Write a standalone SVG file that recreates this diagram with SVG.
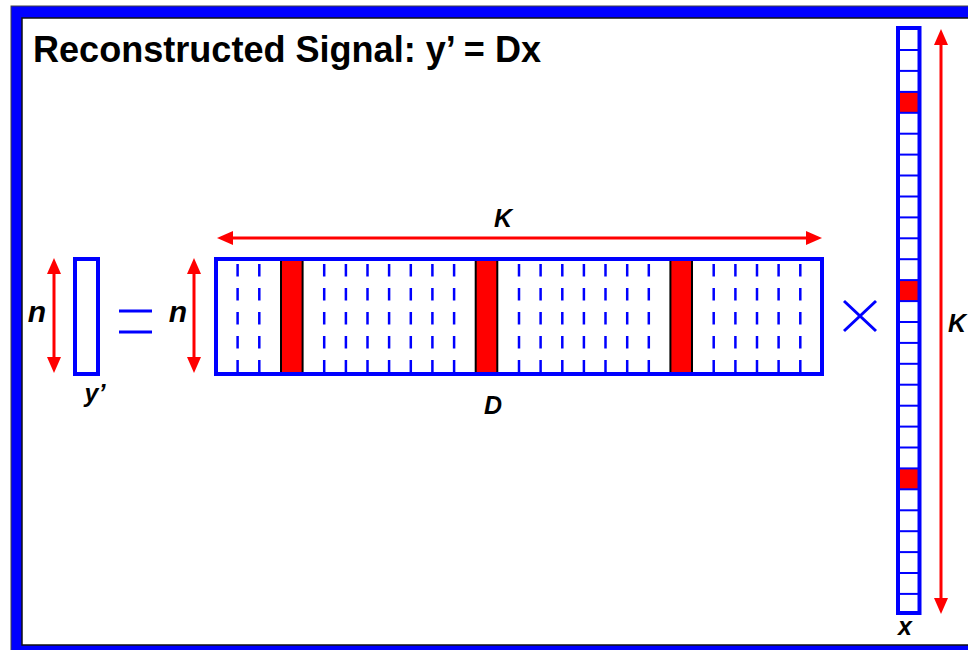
<svg xmlns="http://www.w3.org/2000/svg" width="968" height="650" viewBox="0 0 968 650">
<style>
.lbl{font-family:"Liberation Sans",Arial,sans-serif;font-weight:bold;font-style:italic;fill:#000}
.title{font-family:"Liberation Sans",Arial,sans-serif;font-weight:bold;fill:#000;font-size:36px}
.box{fill:none;stroke:#0000ff;stroke-width:4}
.dash{stroke:#0000ff;stroke-width:2.5;stroke-dasharray:12.5 11.5;stroke-dashoffset:21}
.redcol{fill:#ff0000;stroke:#000;stroke-width:2}
.cell{stroke:#0000ff;stroke-width:2}
.redcell{fill:#ff0000}
.dim{stroke:#ff0000;stroke-width:3;fill:none;marker-start:url(#ah);marker-end:url(#ah)}
.op{stroke:#0000ff;stroke-width:3;fill:none}
</style>
<defs>
<marker id="ah" markerUnits="userSpaceOnUse" markerWidth="16" markerHeight="14" refX="2" refY="7" orient="auto-start-reverse">
<path d="M0,0 L16,7 L0,14 z" fill="#ff0000"/>
</marker>
</defs>
<g id="frame">
<rect x="11" y="6" width="1000" height="700" fill="#0000ff" stroke="#444" stroke-width="1"/>
<rect x="22" y="18" width="1000" height="627" fill="#ffffff" stroke="#111" stroke-width="1.5"/>
</g>
<text class="title" x="33" y="62" textLength="508" lengthAdjust="spacingAndGlyphs">Reconstructed Signal: y’ = Dx</text>
<g id="y-vector">
<rect class="box" x="75" y="259" width="23" height="115"/>
<text class="lbl" x="95" y="402" font-size="25" text-anchor="middle">y’</text>
</g>
<g id="equals">
<line class="op" x1="119" y1="311" x2="152" y2="311"/>
<line class="op" x1="119" y1="332" x2="152" y2="332"/>
</g>
<g id="D-matrix">
<g>
<line class="dash" x1="237.6" y1="261" x2="237.6" y2="374"/>
<line class="dash" x1="259.3" y1="261" x2="259.3" y2="374"/>
<line class="dash" x1="324.2" y1="261" x2="324.2" y2="374"/>
<line class="dash" x1="345.9" y1="261" x2="345.9" y2="374"/>
<line class="dash" x1="367.5" y1="261" x2="367.5" y2="374"/>
<line class="dash" x1="389.1" y1="261" x2="389.1" y2="374"/>
<line class="dash" x1="410.8" y1="261" x2="410.8" y2="374"/>
<line class="dash" x1="432.4" y1="261" x2="432.4" y2="374"/>
<line class="dash" x1="454.1" y1="261" x2="454.1" y2="374"/>
<line class="dash" x1="519.0" y1="261" x2="519.0" y2="374"/>
<line class="dash" x1="540.6" y1="261" x2="540.6" y2="374"/>
<line class="dash" x1="562.3" y1="261" x2="562.3" y2="374"/>
<line class="dash" x1="583.9" y1="261" x2="583.9" y2="374"/>
<line class="dash" x1="605.5" y1="261" x2="605.5" y2="374"/>
<line class="dash" x1="627.2" y1="261" x2="627.2" y2="374"/>
<line class="dash" x1="648.8" y1="261" x2="648.8" y2="374"/>
<line class="dash" x1="713.7" y1="261" x2="713.7" y2="374"/>
<line class="dash" x1="735.4" y1="261" x2="735.4" y2="374"/>
<line class="dash" x1="757.0" y1="261" x2="757.0" y2="374"/>
<line class="dash" x1="778.6" y1="261" x2="778.6" y2="374"/>
<line class="dash" x1="800.3" y1="261" x2="800.3" y2="374"/>
</g>
<rect class="redcol" x="281" y="259" width="21.6" height="115"/>
<rect class="redcol" x="475.7" y="259" width="21.6" height="115"/>
<rect class="redcol" x="670.4" y="259" width="21.6" height="115"/>
<rect class="box" x="216" y="259" width="606" height="115"/>
<text class="lbl" x="493" y="414" font-size="25" text-anchor="middle">D</text>
</g>
<g id="times">
<line class="op" x1="844" y1="301" x2="876" y2="331"/>
<line class="op" x1="876" y1="301" x2="844" y2="331"/>
</g>
<g id="x-vector">
<rect class="redcell" x="900" y="92" width="18" height="20.9"/>
<rect class="redcell" x="900" y="280.1" width="18" height="20.9"/>
<rect class="redcell" x="900" y="468.4" width="18" height="20.9"/>
<g>
<line class="cell" x1="898" y1="50.0" x2="920" y2="50.0"/>
<line class="cell" x1="898" y1="70.9" x2="920" y2="70.9"/>
<line class="cell" x1="898" y1="91.9" x2="920" y2="91.9"/>
<line class="cell" x1="898" y1="112.8" x2="920" y2="112.8"/>
<line class="cell" x1="898" y1="133.7" x2="920" y2="133.7"/>
<line class="cell" x1="898" y1="154.6" x2="920" y2="154.6"/>
<line class="cell" x1="898" y1="175.5" x2="920" y2="175.5"/>
<line class="cell" x1="898" y1="196.5" x2="920" y2="196.5"/>
<line class="cell" x1="898" y1="217.4" x2="920" y2="217.4"/>
<line class="cell" x1="898" y1="238.3" x2="920" y2="238.3"/>
<line class="cell" x1="898" y1="259.2" x2="920" y2="259.2"/>
<line class="cell" x1="898" y1="280.1" x2="920" y2="280.1"/>
<line class="cell" x1="898" y1="301.1" x2="920" y2="301.1"/>
<line class="cell" x1="898" y1="322.0" x2="920" y2="322.0"/>
<line class="cell" x1="898" y1="342.9" x2="920" y2="342.9"/>
<line class="cell" x1="898" y1="363.8" x2="920" y2="363.8"/>
<line class="cell" x1="898" y1="384.7" x2="920" y2="384.7"/>
<line class="cell" x1="898" y1="405.7" x2="920" y2="405.7"/>
<line class="cell" x1="898" y1="426.6" x2="920" y2="426.6"/>
<line class="cell" x1="898" y1="447.5" x2="920" y2="447.5"/>
<line class="cell" x1="898" y1="468.4" x2="920" y2="468.4"/>
<line class="cell" x1="898" y1="489.3" x2="920" y2="489.3"/>
<line class="cell" x1="898" y1="510.3" x2="920" y2="510.3"/>
<line class="cell" x1="898" y1="531.2" x2="920" y2="531.2"/>
<line class="cell" x1="898" y1="552.1" x2="920" y2="552.1"/>
<line class="cell" x1="898" y1="573.0" x2="920" y2="573.0"/>
<line class="cell" x1="898" y1="593.9" x2="920" y2="593.9"/>
</g>
<rect class="box" x="898" y="28" width="21.5" height="585"/>
<text class="lbl" x="905" y="635" font-size="25" text-anchor="middle">x</text>
</g>
<g id="connectors">
<line class="dim" x1="54" y1="272" x2="54" y2="359"/>
<line class="dim" x1="194" y1="272" x2="194" y2="359"/>
<line class="dim" x1="231" y1="238" x2="808" y2="238"/>
<line class="dim" x1="941" y1="43" x2="941" y2="600"/>
</g>
<g id="labels">
<text class="lbl" x="37" y="322" font-size="30" text-anchor="middle">n</text>
<text class="lbl" x="178" y="322" font-size="30" text-anchor="middle">n</text>
<text class="lbl" x="503" y="227" font-size="25" text-anchor="middle">K</text>
<text class="lbl" x="948" y="332" font-size="25">K</text>
</g>
</svg>
